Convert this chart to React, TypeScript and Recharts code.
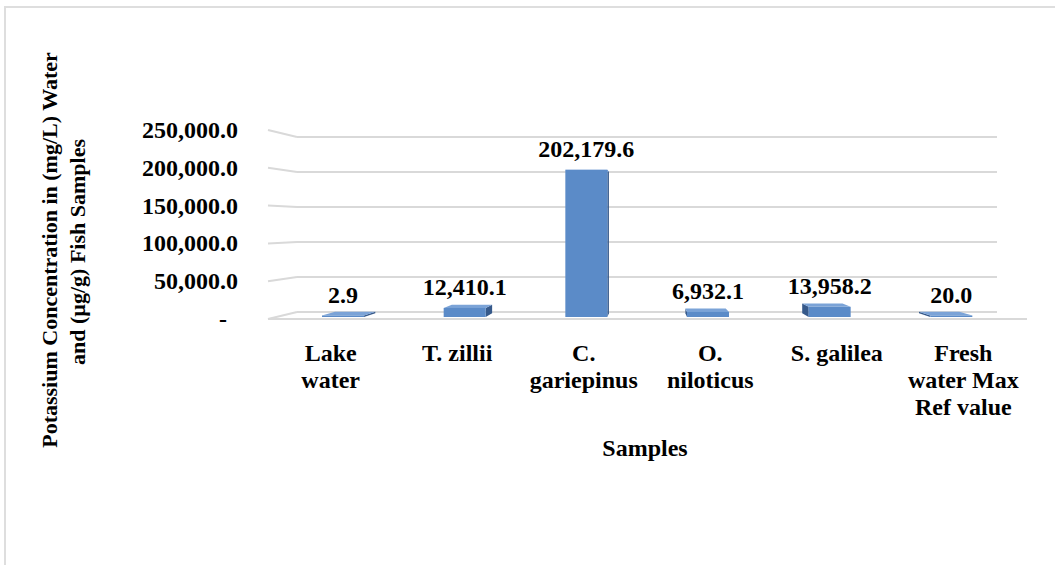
import { BarChart, Bar, XAxis, YAxis, CartesianGrid, LabelList, Label } from "recharts";

const samples = [
  "Lake water",
  "T. zillii",
  "C. gariepinus",
  "O. niloticus",
  "S. galilea",
  "Fresh water Max Ref value",
];
const sampleLines = [
  ["Lake", "water"],
  ["T. zillii"],
  ["C.", "gariepinus"],
  ["O.", "niloticus"],
  ["S. galilea"],
  ["Fresh", "water Max", "Ref value"],
];
const potassium = [2.9, 12410.1, 202179.6, 6932.1, 13958.2, 20.0];
const yTicks = [0, 50000, 100000, 150000, 200000, 250000];

const data = samples.map((s, i) => ({ sample: s, value: potassium[i] }));

// plot box (bars sit in the middle of the 3d floor)
const PLOT = { left: 282, right: 1012, top: 137, bottom: 312 };
const EYE_Y = (PLOT.top + PLOT.bottom) / 2;
const VAN_X = 647;
const DEPTH = 0.04; // bar depth, relative perspective shrink
const WALL = 0.08; // front edge vs back wall

const FONT = '"Liberation Serif", "Times New Roman", serif';
const GRID = "#d9d9d9";
const FRONT = "#5b8bc8";
const TOP = "#7ba3d7";
const SIDE = "#36598a";

const fmt = (v: number) =>
  v.toLocaleString("en-US", { minimumFractionDigits: 1, maximumFractionDigits: 1 });

function GridLine(props: any) {
  const { x1, x2, y1 } = props;
  const y = y1;
  const fy = y + (y - EYE_Y) * WALL;
  const b1 = x1 + 15;
  const b2 = x2 - 15;
  const floor = Math.abs(y - PLOT.bottom) < 1;
  return (
    <g>
      <line x1={x1 - 14} y1={fy} x2={b1} y2={y} stroke={GRID} strokeWidth={2} />
      <line x1={b1} y1={y} x2={b2} y2={y} stroke={GRID} strokeWidth={2} />
      {floor && <line x1={x1 - 14} y1={fy} x2={x2 + 15} y2={fy} stroke={GRID} strokeWidth={2} />}
    </g>
  );
}

function barBox(x: number, y: number, width: number, height: number) {
  const bottom = y + height + 5;
  const top = bottom - Math.max(height * 1.04, 1.5);
  return { left: x, right: x + width, top, bottom };
}

function Column3D(props: any) {
  const { x, y, width, height } = props;
  if (x == null || width == null) return null;
  const { left, right, top, bottom } = barBox(x, y, width, height);
  const back = (px: number, py: number) => [px + (VAN_X - px) * DEPTH, py + (EYE_Y - py) * DEPTH];
  const [tlx, tly] = back(left, top);
  const [trx, try_] = back(right, top);
  const [brx, bry] = back(right, bottom);
  const [blx, bly] = back(left, bottom);
  let side = null;
  if (right < VAN_X) {
    side = <polygon points={`${right},${top} ${trx},${try_} ${brx},${bry} ${right},${bottom}`} fill={SIDE} />;
  } else if (left > VAN_X) {
    side = <polygon points={`${left},${top} ${tlx},${tly} ${blx},${bly} ${left},${bottom}`} fill={SIDE} />;
  }
  return (
    <g>
      {side}
      <polygon points={`${left},${top} ${right},${top} ${trx},${try_} ${tlx},${tly}`} fill={TOP} />
      <rect x={left} y={top} width={width} height={bottom - top} fill={FRONT} />
    </g>
  );
}

function ValueLabel(props: any) {
  const { x, y, width, height, value } = props;
  const { top } = barBox(x, y, width, height);
  return (
    <text
      x={x + width / 2}
      y={top - 13}
      textAnchor="middle"
      fontFamily={FONT}
      fontWeight="bold"
      fontSize={24}
      fill="#000"
    >
      {fmt(value)}
    </text>
  );
}

function YTick(props: any) {
  const { y, payload } = props;
  const v = payload.value as number;
  const fy = y + (y - EYE_Y) * WALL;
  return (
    <text
      x={PLOT.left - 44 - (v === 0 ? 11 : 0)}
      y={fy + 8}
      textAnchor="end"
      fontFamily={FONT}
      fontWeight="bold"
      fontSize={24}
      fill="#000"
    >
      {v === 0 ? "-" : fmt(v)}
    </text>
  );
}

function XTick(props: any) {
  const { x, payload } = props;
  const idx = samples.indexOf(payload.value);
  const lines = sampleLines[idx] || [payload.value];
  const fx = x + (x - VAN_X) * DEPTH;
  return (
    <text textAnchor="middle" fontFamily={FONT} fontWeight="bold" fontSize={24} fill="#000">
      {lines.map((l, i) => (
        <tspan key={i} x={fx} y={PLOT.bottom + 49 + i * 27}>
          {l}
        </tspan>
      ))}
    </text>
  );
}

function YTitle() {
  return (
    <g fontFamily={FONT} fontWeight="bold" fontSize={22} fill="#000">
      <text x={57} y={250} textAnchor="middle" transform="rotate(-90, 57, 250)">
        {"Potassium  Concentration in (mg/L) Water"}
      </text>
      <text x={85} y={252} textAnchor="middle" transform="rotate(-90, 85, 252)">
        and (µg/g) Fish Samples
      </text>
    </g>
  );
}

function XTitle() {
  return (
    <text x={645} y={456} textAnchor="middle" fontFamily={FONT} fontWeight="bold" fontSize={24} fill="#000">
      Samples
    </text>
  );
}

export default function App() {
  const yAxisWidth = 60;
  return (
    <div style={{ position: "absolute", left: 0, top: 0, width: 1055, height: 565, background: "#fff" }}>
      <div
        style={{
          position: "absolute",
          left: 4,
          top: 6,
          width: 1051,
          height: 559,
          borderTop: "2px solid #dedede",
          borderLeft: "2px solid #dedede",
          boxSizing: "border-box",
        }}
      />
      <div style={{ position: "absolute", left: 0, top: 0 }}>
        <BarChart
          width={1055}
          height={565}
          data={data}
          margin={{ top: PLOT.top, right: 1055 - PLOT.right, bottom: 153, left: PLOT.left - yAxisWidth }}
        >
          <CartesianGrid vertical={false} horizontal={(p: any) => <GridLine {...p} />} />
          <XAxis
            dataKey="sample"
            height={100}
            axisLine={false}
            tickLine={false}
            interval={0}
            tick={<XTick />}
          >
            <Label content={() => <XTitle />} />
          </XAxis>
          <YAxis
            width={yAxisWidth}
            domain={[0, 250000]}
            ticks={yTicks}
            axisLine={false}
            tickLine={false}
            tick={<YTick />}
          >
            <Label content={() => <YTitle />} />
          </YAxis>
          <Bar dataKey="value" barSize={42} shape={<Column3D />} isAnimationActive={false}>
            <LabelList dataKey="value" content={<ValueLabel />} />
          </Bar>
        </BarChart>
      </div>
    </div>
  );
}
